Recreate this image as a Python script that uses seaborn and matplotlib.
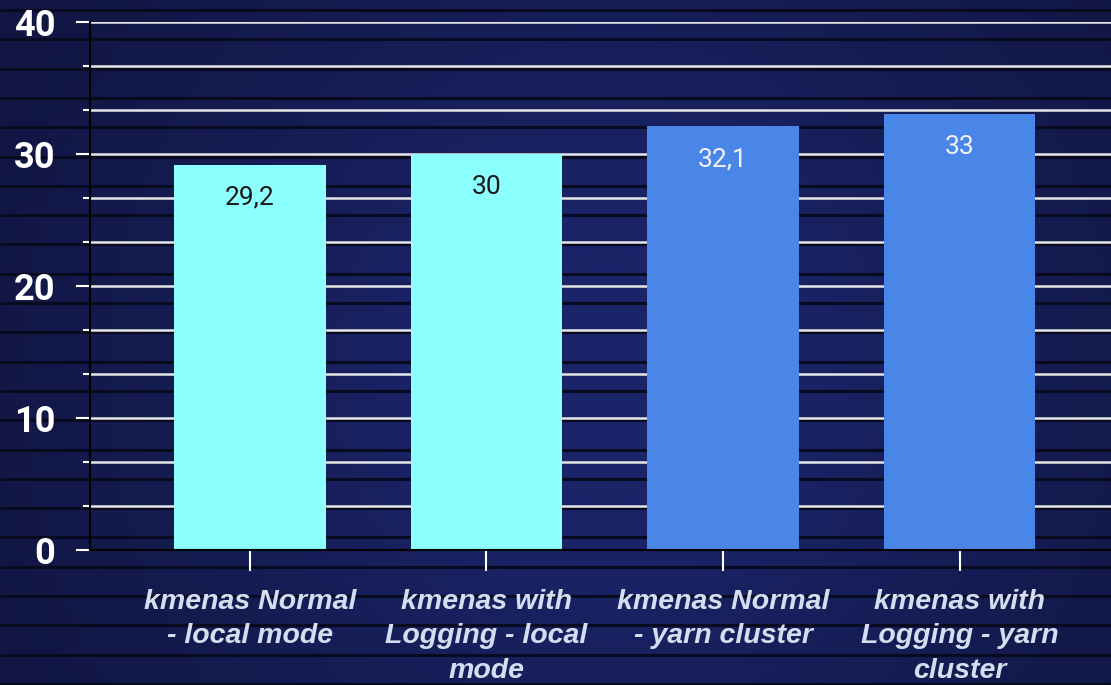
import numpy as np
import pandas as pd
import matplotlib
matplotlib.use("Agg")
import matplotlib.pyplot as plt
import seaborn as sns
from matplotlib.ticker import MultipleLocator

categories = ["kmenas Normal\n- local mode",
              "kmenas with\nLogging - local\nmode",
              "kmenas Normal\n- yarn cluster",
              "kmenas with\nLogging - yarn\ncluster"]
values = [29.2, 30, 32.1, 33]
bar_colors = ["#8cffff", "#8cffff", "#4a86e8", "#4a86e8"]
label_colors = ["#1a1a1a", "#1a1a1a", "#f2f2f2", "#f2f2f2"]
y_ticks = [0, 10, 20, 30, 40]

sns.set_theme(style="white")
plt.rcParams["font.family"] = ["Roboto", "DejaVu Sans"]

W, H = 1111, 685
fig = plt.figure(figsize=(W / 100, H / 100), dpi=100)

# background gradient + decorative stripes
bg = fig.add_axes([0, 0, 1, 1], zorder=0)
xx, yy = np.meshgrid(np.linspace(0, 1, 300), np.linspace(0, 1, 200))
center = np.array([0x1b, 0x25, 0x6a]) / 255
edge = np.array([0x0f, 0x13, 0x3a]) / 255
f = np.exp(-(((xx - 0.55) ** 2) / 0.22 + ((yy - 0.45) ** 2) / 0.6))
img = edge[None, None, :] * (1 - f[..., None]) + center[None, None, :] * f[..., None]
bg.imshow(img, extent=[0, 1, 0, 1], aspect="auto", origin="lower")
stripe_y = [1 - (10 + 29.3 * k) / H for k in range(24)]
bg.hlines(stripe_y, 0, 1, colors="#080b20", linewidth=2.2)
bg.set_xlim(0, 1)
bg.set_ylim(0, 1)
bg.axis("off")

ax = fig.add_axes([90 / W, (H - 550) / H, 1 - 90 / W, (550 - 22) / H], zorder=1)
ax.set_facecolor("none")

df = pd.DataFrame({"cat": categories, "val": values})
sns.barplot(data=df, x="cat", y="val", hue="cat", palette=bar_colors,
            legend=False, width=0.64, ax=ax, zorder=3, saturation=1,
            linewidth=0, edgecolor="none")

ax.set_ylim(0, 40)
ax.set_xlim(-0.676, 3.64)
ax.yaxis.set_major_locator(MultipleLocator(10))
ax.yaxis.set_minor_locator(MultipleLocator(10 / 3))
ax.set_yticks(y_ticks)
ax.grid(True, which="both", axis="y", color="#e6e6e6", linewidth=1.8, zorder=0)
ax.grid(False, axis="x")
ax.set_axisbelow(True)

for i, v in enumerate(values):
    txt = f"{v:g}".replace(".", ",")
    ax.annotate(txt, xy=(i, v), xytext=(0, -15), textcoords="offset points",
                ha="center", va="top", fontsize=19, color=label_colors[i], zorder=5)

ax.set_xlabel("")
ax.set_ylabel("")
for lbl in ax.get_yticklabels():
    lbl.set_fontsize(26)
    lbl.set_fontweight("bold")
    lbl.set_color("white")
ax.tick_params(axis="y", which="major", direction="out", length=10, width=1.5,
               color="white", pad=15, left=True)
ax.tick_params(axis="y", which="minor", direction="out", length=5, width=1.5,
               color="white", left=True)
ax.tick_params(axis="x", direction="inout", length=30, width=1.5, color="white",
               pad=13, bottom=True)
ax.set_xticks(range(len(categories)))
ax.set_xticklabels(categories, fontsize=20.5, fontstyle="italic", fontweight="bold",
                   color="#d4def0", family=["Liberation Sans", "DejaVu Sans"],
                   linespacing=1.42)

for s in ["top", "right"]:
    ax.spines[s].set_visible(False)
for s in ["left", "bottom"]:
    ax.spines[s].set_color("black")
    ax.spines[s].set_linewidth(1.5)
    ax.spines[s].set_zorder(4)

fig.savefig("out.png", dpi=100)
